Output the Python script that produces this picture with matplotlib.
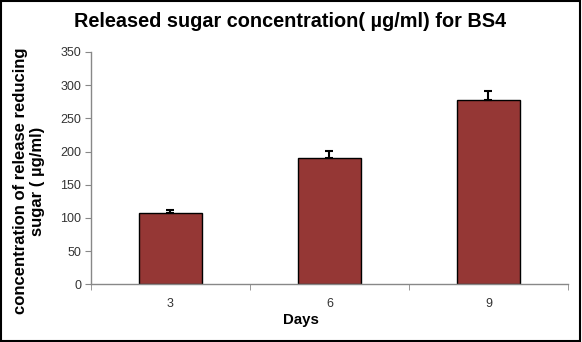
import matplotlib
matplotlib.use("Agg")
import matplotlib.pyplot as plt
from matplotlib.patches import Rectangle

plt.rcParams['font.family'] = ['Liberation Sans', 'DejaVu Sans']

days = ["3", "6", "9"]
sugar = [107, 190, 278]
errors = [5, 11, 13]
yticks = [0, 50, 100, 150, 200, 250, 300, 350]

fig = plt.figure(figsize=(5.82, 3.42), dpi=100)
ax = fig.add_axes([0.156, 0.169, 0.820, 0.679])

x = list(range(len(days)))
ax.bar(x, sugar, width=0.4, color="#953735", edgecolor="black", linewidth=1.0, zorder=2)
ax.errorbar(x, sugar, yerr=[[0]*len(errors), errors], fmt="none", ecolor="black",
            elinewidth=1.5, capsize=3, capthick=1.5, zorder=3)

ax.set_xlim(-0.5, len(days) - 0.5)
ax.set_ylim(0, 350)
ax.set_yticks(yticks)
ax.set_xticks(x)
ax.set_xticklabels(days)
ax.set_xticks([-0.5, 0.5, 1.5, 2.5], minor=True)
ax.tick_params(axis="x", which="major", length=0, pad=10, labelsize=9, labelcolor="#333333")
ax.tick_params(axis="x", which="minor", length=4, color="#888888", direction="out")
ax.tick_params(axis="y", length=4, color="#888888", labelsize=9, labelcolor="#333333", pad=3)

for s in ["top", "right"]:
    ax.spines[s].set_visible(False)
for s in ["left", "bottom"]:
    ax.spines[s].set_color("#888888")
    ax.spines[s].set_linewidth(1.0)

fig.text(300.5 / 582, 1 - 324 / 342, "Days", ha="center", va="baseline",
         fontsize=10.8, fontweight="bold")
fig.text(29 / 582, 1 - 181 / 342, "concentration of release reducing\nsugar ( µg/ml)",
         ha="center", va="center", rotation=90, multialignment="center",
         fontsize=12, fontweight="bold", linespacing=1.2)

fig.text(290 / 582, 1 - 27 / 342, "Released sugar concentration( µg/ml) for BS4",
         ha="center", va="baseline", fontsize=14.3, fontweight="bold")

fig.patches.append(Rectangle((0.002, 0.003), 0.995, 0.994, transform=fig.transFigure,
                             fill=False, edgecolor="black", linewidth=1.5))

fig.savefig("out.png", dpi=100)
